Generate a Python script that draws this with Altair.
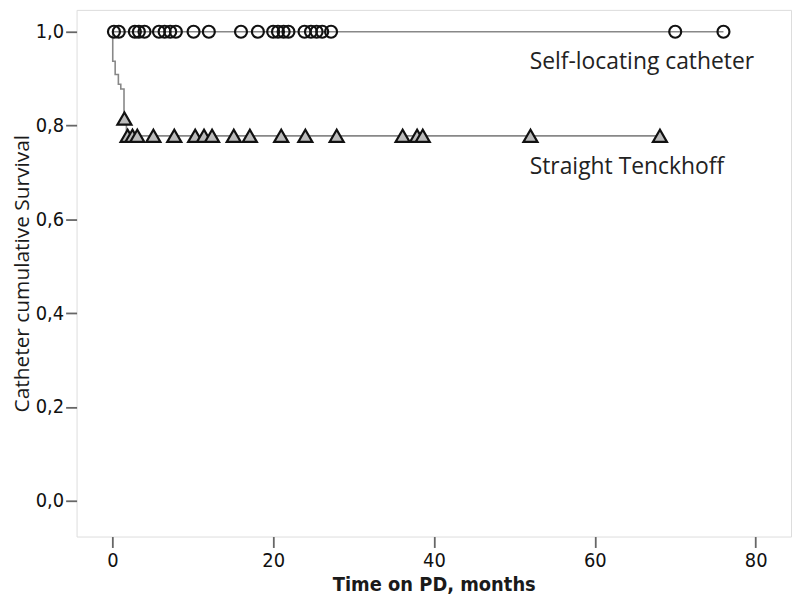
import altair as alt
import pandas as pd

# Self-locating catheter: censored times (months), survival stays at 1.0
self_times = [0.2, 0.8, 2.8, 3.3, 4.0, 5.8, 6.5, 7.2, 7.9, 10.1, 12.0,
              16.0, 18.1, 20.0, 20.6, 21.3, 21.9, 23.9, 24.7, 25.4, 26.1, 27.2,
              70.0, 76.0]
self_surv = [1.0] * len(self_times)
self_line_t = [0.0, 76.0]
self_line_s = [1.0, 1.0]

# Straight Tenckhoff: step curve and censored marks
ten_step_t = [0.0, 0.05, 0.35, 0.75, 1.05, 1.45, 1.75, 68.1]
ten_step_s = [1.0, 0.937, 0.909, 0.888, 0.878, 0.817, 0.778, 0.778]
ten_times = [1.5, 1.9, 2.5, 3.1, 5.1, 7.7, 10.3, 11.4, 12.4, 15.1, 17.1,
             21.0, 24.0, 27.9, 36.1, 37.9, 38.6, 52.0, 68.1]
ten_surv = [0.815] + [0.778] * 18

labels = ["Self-locating catheter", "Straight Tenckhoff"]
label_t = [51.9, 51.9]
label_s = [0.935, 0.712]

lines = pd.concat([
    pd.DataFrame({"t": self_line_t, "s": self_line_s, "g": "self"}),
    pd.DataFrame({"t": ten_step_t, "s": ten_step_s, "g": "ten"}),
])
circ = pd.DataFrame({"t": self_times, "s": self_surv})
tri = pd.DataFrame({"t": ten_times, "s": ten_surv})
lab = pd.DataFrame({"t": label_t, "s": label_s, "label": labels})

xs = alt.Scale(domain=[-4.45, 84.4], nice=False, zero=False)
ys = alt.Scale(domain=[-0.0763, 1.0466], nice=False, zero=False)

axis_font = "DejaVu Sans Condensed, DejaVu Sans"

xax = alt.Axis(values=[0, 20, 40, 60, 80], title="Time on PD, months",
               grid=False, domain=False, tickSize=11, tickColor="#666",
               tickWidth=1.8, labelFontSize=20, labelColor="#111",
               labelFont=axis_font, labelPadding=3,
               titleFont=axis_font, titleFontSize=20, titleFontWeight="bold",
               titleColor="#1a1a1a", titlePadding=4)
yax = alt.Axis(values=[0, 0.2, 0.4, 0.6, 0.8, 1.0], format=".1f",
               labelExpr="replace(datum.label, '.', ',')",
               title="Catheter cumulative Survival",
               grid=False, domain=False, tickSize=11, tickColor="#666",
               tickWidth=1.8, labelFontSize=20, labelColor="#111",
               labelFont=axis_font, labelPadding=2,
               titleFont="Open Sans", titleFontSize=21, titleFontWeight="normal",
               titleColor="#1a1a1a", titlePadding=3)

base_x = alt.X("t:Q", scale=xs, axis=xax)
base_y = alt.Y("s:Q", scale=ys, axis=yax)

line = alt.Chart(lines).mark_line(interpolate="step-after", color="#888",
                                  strokeWidth=1.6).encode(
    x=base_x, y=base_y, detail="g:N")

circles = alt.Chart(circ).mark_point(shape="circle", filled=False, size=145,
                                     color="#111", strokeWidth=2.2,
                                     opacity=1).encode(
    x=alt.X("t:Q", scale=xs), y=alt.Y("s:Q", scale=ys))

tris = alt.Chart(tri).mark_point(shape="triangle-up", filled=True, size=200,
                                 fill="#bbb", stroke="#111", strokeWidth=2.2,
                                 fillOpacity=1, opacity=1).encode(
    x=alt.X("t:Q", scale=xs), y=alt.Y("s:Q", scale=ys))

text = alt.Chart(lab).mark_text(align="left", baseline="middle", fontSize=23,
                                font="Open Sans", color="#222").encode(
    x=alt.X("t:Q", scale=xs), y=alt.Y("s:Q", scale=ys), text="label:N")

chart = alt.layer(line, circles, tris, text).properties(
    width=719, height=530,
    autosize=alt.AutoSizeParams(type="none"),
    padding={"left": 69, "top": 0, "right": 1, "bottom": 68},
).configure_view(stroke="#777", strokeWidth=2).configure(background="white")

chart.save("out.html", embed_options={"renderer": "svg", "actions": False})
